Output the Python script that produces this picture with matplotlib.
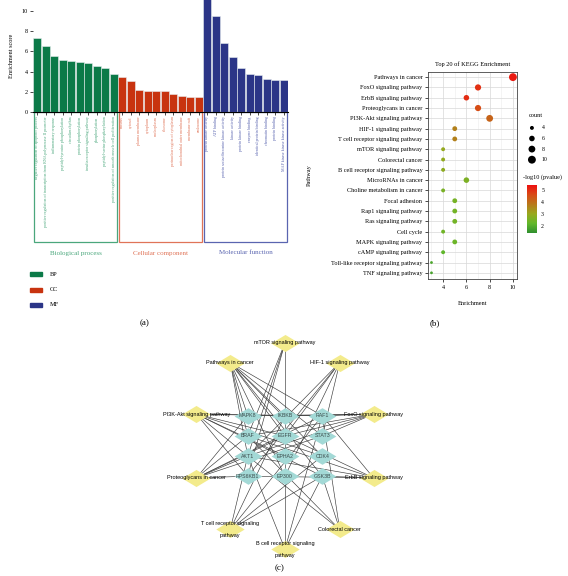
import numpy as np
import matplotlib
matplotlib.use("Agg")
import matplotlib.pyplot as plt
from matplotlib.colors import LinearSegmentedColormap
from matplotlib.patches import Rectangle
from matplotlib.path import Path as MPath

W, H = 568, 576
SERIF = ["Liberation Serif", "DejaVu Serif"]
SANS = ["Liberation Sans", "DejaVu Sans"]

# ---- (a) GO enrichment ----
bp_terms = [
    "negative regulation of apoptotic process",
    "positive regulation of transcription from RNA polymerase II promoter",
    "inflammatory response",
    "peptidyl-tyrosine phosphorylation",
    "circadian rhythm",
    "protein phosphorylation",
    "insulin receptor signaling pathway",
    "phosphorylation",
    "peptidyl-serine phosphorylation",
    "positive regulation of smooth muscle cell proliferation",
]
bp_scores = [7.3, 6.5, 5.55, 5.2, 5.1, 5.0, 4.85, 4.6, 4.4, 3.8]

cc_terms = [
    "nucleus",
    "cytosol",
    "plasma membrane",
    "cytoplasm",
    "nucleoplasm",
    "ribosome",
    "perinuclear region of cytoplasm",
    "mitochondrial outer membrane",
    "membrane raft",
    "endosome",
]
cc_scores = [3.5, 3.05, 2.15, 2.12, 2.08, 2.07, 1.8, 1.6, 1.52, 1.45]

mf_terms = [
    "protein kinase activity",
    "ATP binding",
    "protein serine/threonine kinase activity",
    "kinase activity",
    "protein kinase binding",
    "enzyme binding",
    "identical protein binding",
    "chromatin binding",
    "protein binding",
    "MAP kinase kinase kinase activity",
]
mf_scores = [11.4, 9.5, 6.8, 5.5, 4.4, 3.8, 3.65, 3.3, 3.2, 3.15]

group_names = ["Biological process", "Cellular component", "Molecular function"]
group_short = ["BP", "CC", "MF"]

# ---- (b) KEGG top 20 ----
kegg_pathways = [
    "Pathways in cancer", "FoxO signaling pathway", "ErbB signaling pathway",
    "Proteoglycans in cancer", "PI3K-Akt signaling pathway", "HIF-1 signaling pathway",
    "T cell receptor signaling pathway", "mTOR signaling pathway", "Colorectal cancer",
    "B cell receptor signaling pathway", "MicroRNAs in cancer",
    "Choline metabolism in cancer", "Focal adhesion", "Rap1 signaling pathway",
    "Ras signaling pathway", "Cell cycle", "MAPK signaling pathway",
    "cAMP signaling pathway", "Toll-like receptor signaling pathway", "TNF signaling pathway",
]
kegg_count = [10, 7, 6, 7, 8, 5, 5, 4, 4, 4, 6, 4, 5, 5, 5, 4, 5, 4, 3, 3]
kegg_logp = [5.3, 5.0, 5.05, 4.6, 4.2, 3.7, 3.7, 3.0, 2.95, 2.9,
             2.65, 2.6, 2.55, 2.5, 2.5, 2.45, 2.4, 2.2, 1.9, 1.85]
size_legend = [4, 6, 8, 10]

# ---- (c) pathway-gene network ----
ring_nodes = [
    "mTOR signaling pathway", "Pathways in cancer", "PI3K-Akt signaling pathway",
    "Proteoglycans in cancer", "T cell receptor signaling\npathway",
    "B cell receptor signaling\npathway", "Colorectal cancer", "ErbB signaling pathway",
    "FoxO signaling pathway", "HIF-1 signaling pathway",
]
genes = ["MAPK8", "IKBKB", "RAF1", "BRAF", "EGFR", "STAT3",
         "AKT1", "EPHA2", "CDK4", "RPS6KB1", "EP300", "GSK3B"]
edges = {
    "Pathways in cancer": ["AKT1", "EGFR", "STAT3", "RAF1", "BRAF", "CDK4",
                           "EP300", "GSK3B", "IKBKB", "MAPK8"],
    "FoxO signaling pathway": ["AKT1", "EGFR", "STAT3", "RAF1", "BRAF", "IKBKB", "MAPK8"],
    "ErbB signaling pathway": ["AKT1", "EGFR", "RAF1", "BRAF", "GSK3B", "RPS6KB1"],
    "Proteoglycans in cancer": ["AKT1", "EGFR", "STAT3", "RAF1", "BRAF", "RPS6KB1", "MAPK8"],
    "PI3K-Akt signaling pathway": ["AKT1", "EGFR", "RAF1", "CDK4", "GSK3B", "IKBKB",
                                   "RPS6KB1", "EPHA2"],
    "HIF-1 signaling pathway": ["AKT1", "EGFR", "STAT3", "EP300", "RPS6KB1"],
    "T cell receptor signaling\npathway": ["AKT1", "RAF1", "GSK3B", "IKBKB", "CDK4"],
    "mTOR signaling pathway": ["AKT1", "BRAF", "RPS6KB1", "IKBKB"],
    "Colorectal cancer": ["AKT1", "RAF1", "BRAF", "GSK3B"],
    "B cell receptor signaling\npathway": ["AKT1", "RAF1", "GSK3B", "IKBKB"],
}

GREEN, RED, BLUE = "#0b7a48", "#c8330f", "#2b3587"
BOX_COLORS = ["#4aa77c", "#e07458", "#5a65b0"]


def px_box(left, top, right, bottom):
    return [left / W, 1 - bottom / H, (right - left) / W, (bottom - top) / H]


def dot_size(count):
    return 4.0 * (count - 2.0)


fig = plt.figure(figsize=(W / 100, H / 100), dpi=100)

# ================= panel (a) =================
ax = fig.add_axes(px_box(33, 0, 288, 112))
scores = bp_scores + cc_scores + mf_scores
terms = bp_terms + cc_terms + mf_terms
colors = [GREEN] * len(bp_scores) + [RED] * len(cc_scores) + [BLUE] * len(mf_scores)
x = np.arange(len(scores))
ax.bar(x, scores, width=0.92, color=colors, edgecolor="#e8eef0", linewidth=0.4)
ax.set_xlim(-0.5, len(scores) - 0.5)
ax.set_ylim(0, 11.1)
ax.set_yticks([0, 2, 4, 6, 8, 10])
ax.set_xticks(x)
ax.set_xticklabels([])
ax.tick_params(axis="x", length=2.5, width=0.5, direction="out")
ax.tick_params(axis="y", length=2, width=0.5, labelsize=4.5, pad=1.5)
for lab in ax.get_yticklabels():
    lab.set_family(SERIF)
for s in ["top", "right", "left"]:
    ax.spines[s].set_visible(False)
ax.spines["bottom"].set_linewidth(0.8)
ax.set_ylabel("Enrichment score", fontsize=4.5, family=SERIF, labelpad=6)

n_grp = [len(bp_scores), len(cc_scores), len(mf_scores)]
start = 0
box_depth = 130 / 112
for g, n in enumerate(n_grp):
    x0, x1 = start - 0.5 + 0.08, start + n - 0.5 - 0.08
    ax.add_patch(Rectangle((x0, -box_depth), x1 - x0, box_depth,
                           transform=ax.get_xaxis_transform(), fill=False,
                           edgecolor=BOX_COLORS[g], linewidth=0.9, clip_on=False))
    ax.text((x0 + x1) / 2, -141 / 112, group_names[g], transform=ax.get_xaxis_transform(),
            ha="center", va="center", fontsize=5, family=SERIF, color=BOX_COLORS[g])
    for k in range(n):
        ax.text(start + k, -0.04, terms[start + k], transform=ax.get_xaxis_transform(),
                rotation=90, ha="center", va="top", fontsize=2.9, family=SERIF,
                color=BOX_COLORS[g])
    start += n

for i, (lab, c) in enumerate(zip(group_short, [GREEN, RED, BLUE])):
    y = 274 + i * 15.5
    fig.patches.append(Rectangle((30 / W, 1 - (y + 2) / H), 12 / W, 4 / H,
                                 transform=fig.transFigure, color=c))
    fig.text(50 / W, 1 - y / H, lab, fontsize=4.5, family=SERIF, va="center")
fig.text(145 / W, 1 - 323 / H, "(a)", fontsize=6.5, family=SERIF, ha="center", va="center")

# ================= panel (b) =================
cmap = LinearSegmentedColormap.from_list(
    "gr", ["#2f8f2f", "#62b82a", "#98a81e", "#b8781a", "#d84a16", "#ee1010"])
vmin, vmax = 1.45, 5.45
axb = fig.add_axes(px_box(428, 72, 517, 279))
ypos = np.arange(len(kegg_pathways))
axb.scatter(kegg_count, ypos, s=[dot_size(c) for c in kegg_count], c=kegg_logp,
            cmap=cmap, vmin=vmin, vmax=vmax, zorder=3, linewidths=0)
axb.set_xlim(2.7, 10.35)
axb.set_ylim(len(kegg_pathways) - 0.4, -0.5)
axb.set_xticks([4, 6, 8, 10])
axb.set_xticks([3, 5, 7, 9], minor=True)
axb.set_yticks(ypos)
axb.set_yticklabels(kegg_pathways)
axb.tick_params(axis="both", which="major", labelsize=4.5, length=2, width=0.5, pad=2)
axb.tick_params(axis="x", which="minor", length=0)
for lab in axb.get_xticklabels() + axb.get_yticklabels():
    lab.set_family(SERIF)
axb.grid(True, which="major", color="#d8d8d8", linewidth=0.5)
axb.grid(True, which="minor", axis="x", color="#ececec", linewidth=0.4)
axb.set_axisbelow(True)
for s in axb.spines.values():
    s.set_linewidth(0.6)
    s.set_color("#444444")
axb.set_title("Top 20 of KEGG Enrichment", fontsize=4.6, family=SERIF, pad=4)
axb.set_xlabel("Enrichment", fontsize=4.5, family=SERIF, labelpad=8)
fig.text(309 / W, 1 - 175 / H, "Pathway", rotation=90, fontsize=4.5, family=SERIF,
         ha="center", va="center")

# size legend
axs = fig.add_axes(px_box(524, 112, 560, 165))
axs.axis("off")
axs.set_xlim(0, 1)
axs.set_ylim(len(size_legend) - 0.5, -1.5)
axs.scatter([0.22] * len(size_legend), np.arange(len(size_legend)),
            s=[dot_size(c) for c in size_legend], color="black", linewidths=0)
for i, c in enumerate(size_legend):
    axs.text(0.5, i, str(c), fontsize=4.2, family=SERIF, va="center")
axs.text(0.12, -1.2, "count", fontsize=4.5, family=SERIF, va="center")

# colour bar
fig.text(523 / W, 1 - 177 / H, "-log10 (pvalue)", fontsize=4.5, family=SERIF, va="center")
cax = fig.add_axes(px_box(527, 185, 537, 233))
sm = plt.cm.ScalarMappable(cmap=cmap, norm=plt.Normalize(vmin, vmax))
cb = fig.colorbar(sm, cax=cax, ticks=[2, 3, 4, 5])
cb.outline.set_visible(False)
cb.ax.tick_params(labelsize=4.2, length=1.5, width=0.4, pad=1.5, color="white")
for lab in cb.ax.get_yticklabels():
    lab.set_family(SERIF)
fig.text(435 / W, 1 - 323 / H, "(b)", fontsize=6.5, family=SERIF, ha="center", va="center")

# ================= panel (c) =================
axc = fig.add_axes(px_box(136, 317, 434, 575))
axc.set_xlim(-1.6, 1.6)
axc.set_ylim(-1.25, 1.25)
axc.axis("off")

pos = {}
for i, name in enumerate(ring_nodes):
    ang = np.deg2rad(90 + 36 * i)
    pos[name] = (np.cos(ang), np.sin(ang))
for i, g in enumerate(genes):
    r, c = divmod(i, 3)
    pos[g] = ((c - 1) * 0.4, (1.5 - r) * 0.195)

for p, glist in edges.items():
    for g in glist:
        (x0, y0), (x1, y1) = pos[p], pos[g]
        axc.plot([x0, x1], [y0, y1], color="#3a3a3a", linewidth=0.45, zorder=1)

diamond = MPath([(-1, 0), (0, 0.6), (1, 0), (0, -0.6), (-1, 0)])
px_ring = np.array([pos[n] for n in ring_nodes])
axc.scatter(px_ring[:, 0], px_ring[:, 1], marker=diamond, s=420, color="#f3eb8c",
            linewidths=0, zorder=2)
px_gene = np.array([pos[g] for g in genes])
axc.scatter(px_gene[:, 0], px_gene[:, 1], marker=diamond, s=400, color="#a3d9d6",
            linewidths=0, zorder=2)
for n in ring_nodes:
    axc.text(pos[n][0], pos[n][1], n, fontsize=4, family=SANS, ha="center",
             va="center", zorder=3, linespacing=2.8, clip_on=False)
for g in genes:
    axc.text(pos[g][0], pos[g][1], g, fontsize=3.8, family=SANS, ha="center",
             va="center", color="#3a4a4a", zorder=3)
fig.text(280 / W, 1 - 568 / H, "(c)", fontsize=6.5, family=SERIF, ha="center", va="center")

fig.savefig("out.png", dpi=100)
